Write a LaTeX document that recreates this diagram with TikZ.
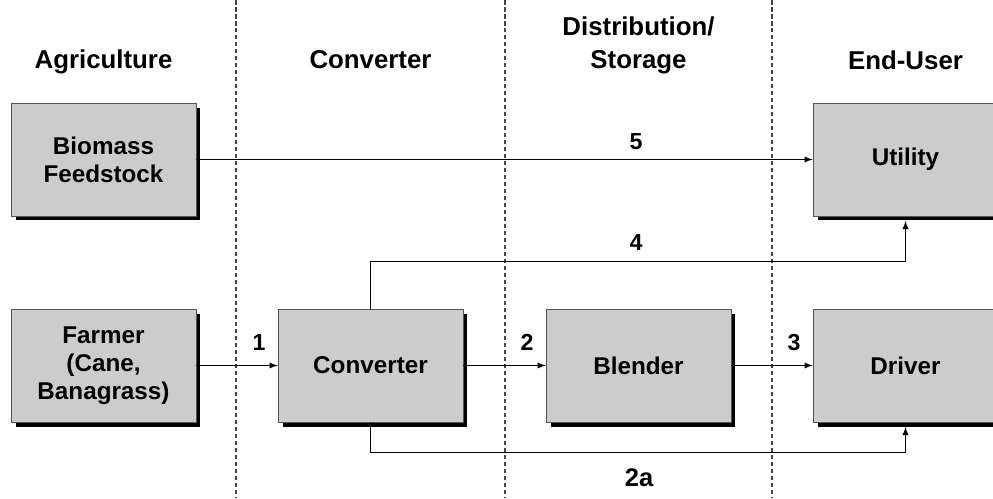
\documentclass[tikz,border=0pt]{standalone}
\usepackage{fontspec}
\setmainfont{Liberation Sans}
\usepackage{tikz}
\usetikzlibrary{shadows}
\definecolor{boxGray}{HTML}{CCCCCC}
\definecolor{edgeGray}{HTML}{555555}
\definecolor{laneGray}{HTML}{444444}

\begin{document}
\begin{tikzpicture}[x=0.02cm, y=-0.02cm,
    block/.style={draw=edgeGray, line width=0.5pt, fill=boxGray,
        minimum width=3.7cm, minimum height=2.26cm, inner sep=0pt, align=center,
        font=\bfseries\fontsize{13.8}{15.9}\selectfont,
        general shadow={fill=black, shadow xshift=0.09cm, shadow yshift=-0.09cm}},
    lane/.style={draw=laneGray, line width=0.6pt, dash pattern=on 0.09cm off 0.05cm},
    flow/.style={-latex, line width=0.6pt},
    head/.style={font=\bfseries\fontsize{14.7}{18.7}\selectfont, align=center, anchor=base},
    tag/.style={font=\bfseries\fontsize{13.2}{15}\selectfont, anchor=base}]
    \useasboundingbox (0, 0) rectangle (993, 498);
    \clip (0, 0) rectangle (993, 498);

    % column separators
    \foreach \x in {236, 505, 772}
        \draw[lane] (\x, 0) -- (\x, 498);

    % column headings
    \node[head] (hAgri) at (103.5, 68) {Agriculture};
    \node[head] (hConv) at (370.5, 68) {Converter};
    \node[head] (hDist) at (638.5, 68) {Distribution/\\Storage};
    \node[head] (hUser) at (905.5, 69) {End-User};

    % boxes
    \node[block] (bio) at (103.5, 159.5) {Biomass\\Feedstock};
    \node[block] (farmer) at (103.5, 365.5) {Farmer\\(Cane,\\Banagrass)};
    \node[block] (conv) at (370.5, 365.5) {Converter};
    \node[block] (blend) at (638.5, 365.5) {Blender};
    \node[block] (driver) at (905.5, 365.5) {Driver};
    \node[block] (util) at (905.5, 159.5) {Utility};

    % flows
    \draw[flow] (bio) -- (util);
    \draw[flow] (farmer) -- (conv);
    \draw[flow] (conv) -- (blend);
    \draw[flow] (blend) -- (driver);
    \draw[flow, shorten >=0.09cm] (conv.north) -- ++(0, -47) -| (util.south);
    \draw[flow, shorten >=0.09cm] (conv.south) -- ++(0, 30) -| (driver.south);

    \node[tag] (t1) at (259, 350) {1};
    \node[tag] (t2) at (527, 350) {2};
    \node[tag] (t3) at (794, 350) {3};
    \node[tag] (t4) at (636, 250) {4};
    \node[tag] (t5) at (636, 149) {5};
    \node[tag, font=\bfseries\fontsize{14.5}{16}\selectfont] (t2a) at (639, 486) {2a};
\end{tikzpicture}
\end{document}
